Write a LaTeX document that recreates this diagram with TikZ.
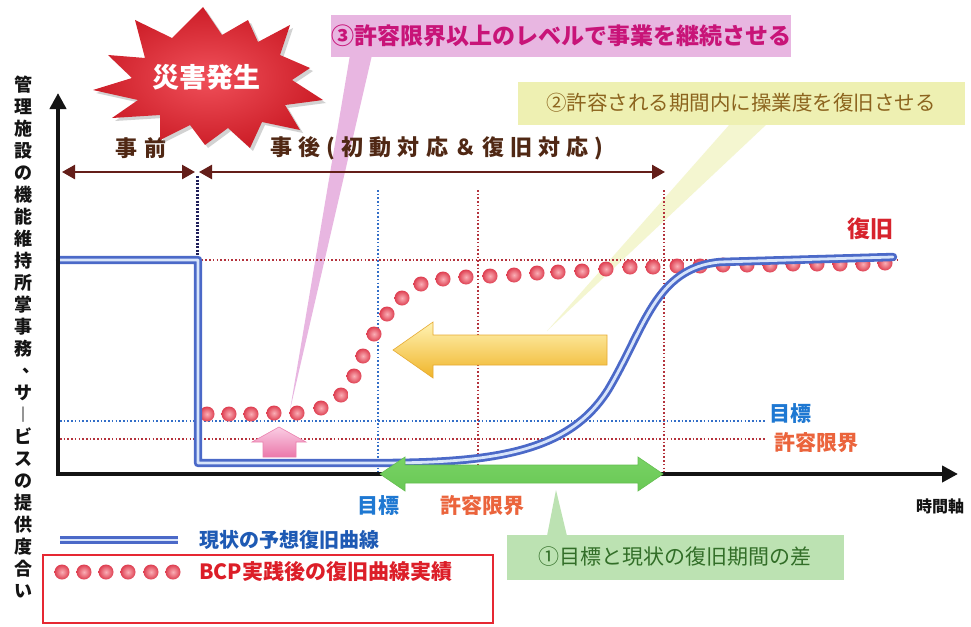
\documentclass[tikz,border=0pt]{standalone}
\usepackage{fontspec}
\setmainfont{Noto Sans CJK JP}
\usetikzlibrary{shadows,arrows.meta,calc}
\definecolor{axisblk}{RGB}{20,20,20}
\definecolor{brownarr}{RGB}{100,30,25}
\definecolor{browntxt}{RGB}{80,40,20}
\definecolor{navydash}{RGB}{30,30,90}
\definecolor{cbord}{RGB}{75,105,200}
\definecolor{cin}{RGB}{215,228,250}
\definecolor{dotblue}{RGB}{50,110,200}
\definecolor{dotred}{RGB}{180,50,60}
\definecolor{lblue}{RGB}{30,120,210}
\definecolor{lorange}{RGB}{235,100,60}
\definecolor{recred}{RGB}{215,35,45}
\definecolor{legblue}{RGB}{30,90,180}
\definecolor{legred}{RGB}{220,30,40}
\definecolor{pinkbox}{RGB}{232,182,225}
\definecolor{pinktxt}{RGB}{200,20,120}
\definecolor{yelbox}{RGB}{238,240,178}
\definecolor{yeltxt}{RGB}{140,100,30}
\definecolor{grnbox}{RGB}{188,226,178}
\definecolor{grntxt}{RGB}{50,110,40}
\definecolor{ballin}{RGB}{250,175,182}
\definecolor{ballout}{RGB}{222,62,80}
\definecolor{burstin}{RGB}{240,80,90}
\definecolor{burstout}{RGB}{205,30,40}
\newcommand\myfs[2]{\fontsize{#1}{#2}\selectfont}
\begin{document}
\begin{tikzpicture}[x=1pt,y=-1pt,
  dotb/.style={line width=1.6pt, dash pattern=on 1.6pt off 2.1pt, draw=dotblue},
  dotr/.style={line width=1.6pt, dash pattern=on 1.6pt off 2.1pt, draw=dotred},
  curve/.style={draw=cbord, line width=2.8pt, double=cin, double distance=2.8pt, line join=round, line cap=round},
  ball/.style={circle, minimum size=15pt, inner sep=0pt, inner color=ballin, outer color=ballout},
  axisline/.style={draw=axisblk, line width=4pt, {Triangle[length=16pt,width=16pt]}-{Triangle[length=16pt,width=16pt]}},
  period/.style={draw=brownarr, line width=2.5pt, {Triangle[length=13pt,width=14pt]}-{Triangle[length=13pt,width=14pt]}},
  lbl/.style={inner sep=0pt, font=\myfs{21}{21}\bfseries},
  callout/.style={inner sep=0pt},
]
\useasboundingbox (0,0) rectangle (971,626);
\fill[white] (0,0) rectangle (971,626);

% callout tails
\fill[pinkbox] (350,55) -- (372,55) -- (290,410) -- cycle;
\fill[yelbox, opacity=0.6] (730,124) -- (767,124) -- (547,331) -- cycle;
\fill[grnbox] (547,536) -- (567,536) -- (556,490) -- cycle;

% grid lines
\draw[dotr] (198,260) -- (898,260);
\draw[dotb] (60,421) -- (765,421);
\draw[dotr] (60,439) -- (765,439);
\draw[dotb] (378,190) -- (378,472);
\draw[dotr] (478,190) -- (478,472);
\draw[dotr] (664,190) -- (664,472);

% dashed onset line
\draw[navydash, line width=3pt, dash pattern=on 2pt off 1.5pt] (197,176) -- (197,257);

% red dots (after BCP)
\foreach \x/\y [count=\i] in {207/414,229/414,251/414,274/413,297/413,321/408,341/395,354/376,363/356,374/334,387/314,402/298,421/284,443/279,466/277,490/276,514/275,537/273,558/272,582/271,606/269,630/267,653/267,677/266,700/266,723/265,747/265,770/265,793/264,817/264,840/264,863/264,885/263}
  \node[ball] (d\i) at (\x,\y) {};

% current expected recovery curve
\draw[curve] (60,260) -- (198,260) -- (198,463) -- (380,463)
  .. controls (500,463) and (570,450) .. (608,390)
  .. controls (645,328) and (655,268) .. (720,262) -- (893,257);

% axes
\coordinate (ytop) at (58,93);
\coordinate (orig) at (58,474);
\coordinate (xend) at (958,474);
\draw[axisline] (ytop) -- (orig) -- (xend);

% yellow arrow
\path[draw={rgb,255:red,230;green,170;blue,50}, line width=0.6pt, top color={rgb,255:red,255;green,243;blue,180}, bottom color={rgb,255:red,240;green,180;blue,40}]
  (393,350) -- (433,322) -- (433,335) -- (607,335) -- (607,365) -- (433,365) -- (433,378) -- cycle;

% green double arrow
\path[draw={rgb,255:red,100;green,190;blue,80}, line width=0.6pt, top color={rgb,255:red,120;green,210;blue,100}, middle color={rgb,255:red,210;green,244;blue,200}, bottom color={rgb,255:red,105;green,200;blue,85}]
  (380,474) -- (405,457) -- (405,465) -- (638,465) -- (638,457) -- (663,474) -- (638,491) -- (638,483) -- (405,483) -- (405,491) -- cycle;

% pink up arrow
\path[draw={rgb,255:red,235;green,130;blue,175}, line width=0.6pt, top color={rgb,255:red,250;green,205;blue,228}, bottom color={rgb,255:red,235;green,120;blue,170}]
  (279,427) -- (306,442) -- (296,442) -- (296,457) -- (263,457) -- (263,442) -- (252,442) -- cycle;

% period arrows
\coordinate (prel) at (62,172);
\coordinate (prer) at (195,172);
\coordinate (postl) at (199,172);
\coordinate (postr) at (665,172);
\draw[period] (prel) -- (prer);
\draw[period] (postl) -- (postr);
\node[inner sep=0pt, text=browntxt, font=\myfs{22}{22}\bfseries\addfontfeature{LetterSpace=30}] (before) at (141,148) {事前};
\node[inner sep=0pt, text=browntxt, font=\myfs{22}{22}\bfseries\addfontfeature{LetterSpace=28}] (after) at (437,148) {事後(初動対応＆復旧対応)};

% burst
\path[drop shadow={opacity=0.35, shadow xshift=3pt, shadow yshift=-3pt}, inner color=burstin, outer color=burstout]
  (203,7) -- (222,35) -- (248,20) -- (258,42) -- (290,25) -- (280,55) -- (310,68) -- (292,80)
  -- (323,100) -- (285,105) -- (300,130) -- (262,122) -- (250,148) -- (228,128) -- (205,145)
  -- (190,125) -- (160,140) -- (160,115) -- (112,118) -- (138,100) -- (93,90) -- (132,78)
  -- (108,55) -- (145,58) -- (135,20) -- (172,38) -- cycle;
\node[inner sep=0pt, text=white, font=\myfs{27}{27}\bfseries] (disaster) at (206,77) {災害発生};

% callout boxes
\node[callout, fill=pinkbox, minimum width=457pt, minimum height=42pt, text=pinktxt, font=\myfs{23}{23}\bfseries] (c3) at (561,36) {③許容限界以上のレベルで事業を継続させる};
\node[callout, fill=yelbox, minimum width=447pt, minimum height=43pt, text=yeltxt, font=\myfs{20.5}{20.5}] (c2) at (741,103) {②許容される期間内に操業度を復旧させる};
\node[callout, fill=grnbox, minimum width=337pt, minimum height=45pt, text=grntxt, font=\myfs{21}{21}] (c1) at (675,557) {①目標と現状の復旧期間の差};

% labels
\node[lbl, text=recred, font=\myfs{23}{23}\bfseries] (rec) at (870,229) {復旧};
\node[lbl, text=lblue] (goalr) at (790,414) {目標};
\node[lbl, text=lorange] (limr) at (816,443) {許容限界};
\node[lbl, text=lblue] (goalb) at (378,506) {目標};
\node[lbl, text=lorange] (limb) at (482,506) {許容限界};
\node[inner sep=0pt, text=axisblk, font=\myfs{16}{16}\bfseries] (taxis) at (940,506) {時間軸};

% y-axis label (vertical)
\node[inner sep=0pt, align=center, text=axisblk, font=\myfs{18}{22}\bfseries] (ylab) at (23,337)
  {管\\理\\施\\設\\の\\機\\能\\維\\持\\所\\掌\\事\\務\\\makebox[18pt][l]{\hspace{9pt}\smash{\raisebox{5pt}{、}}}\\サ\\︱\\ビ\\ス\\の\\提\\供\\度\\合\\い};

% legend
\coordinate (lg1a) at (60,540);
\coordinate (lg1b) at (178,540);
\draw[curve, line cap=butt] (lg1a) -- (lg1b);
\node[anchor=west, inner sep=0pt, text=legblue, font=\myfs{20}{20}\bfseries] (leg1) at (199,540) {現状の予想復旧曲線};
\foreach \x [count=\i] in {62,84,106,128,151,173}
  \node[ball] (lgd\i) at (\x,572) {};
\node[anchor=west, inner sep=0pt, text=legred, font=\myfs{21}{21}\bfseries] (leg2) at (199,572) {BCP実践後の復旧曲線実績};
\draw[draw={rgb,255:red,230;green,40;blue,50}, line width=1.6pt] (43,555) rectangle (493,623);
\end{tikzpicture}
\end{document}
